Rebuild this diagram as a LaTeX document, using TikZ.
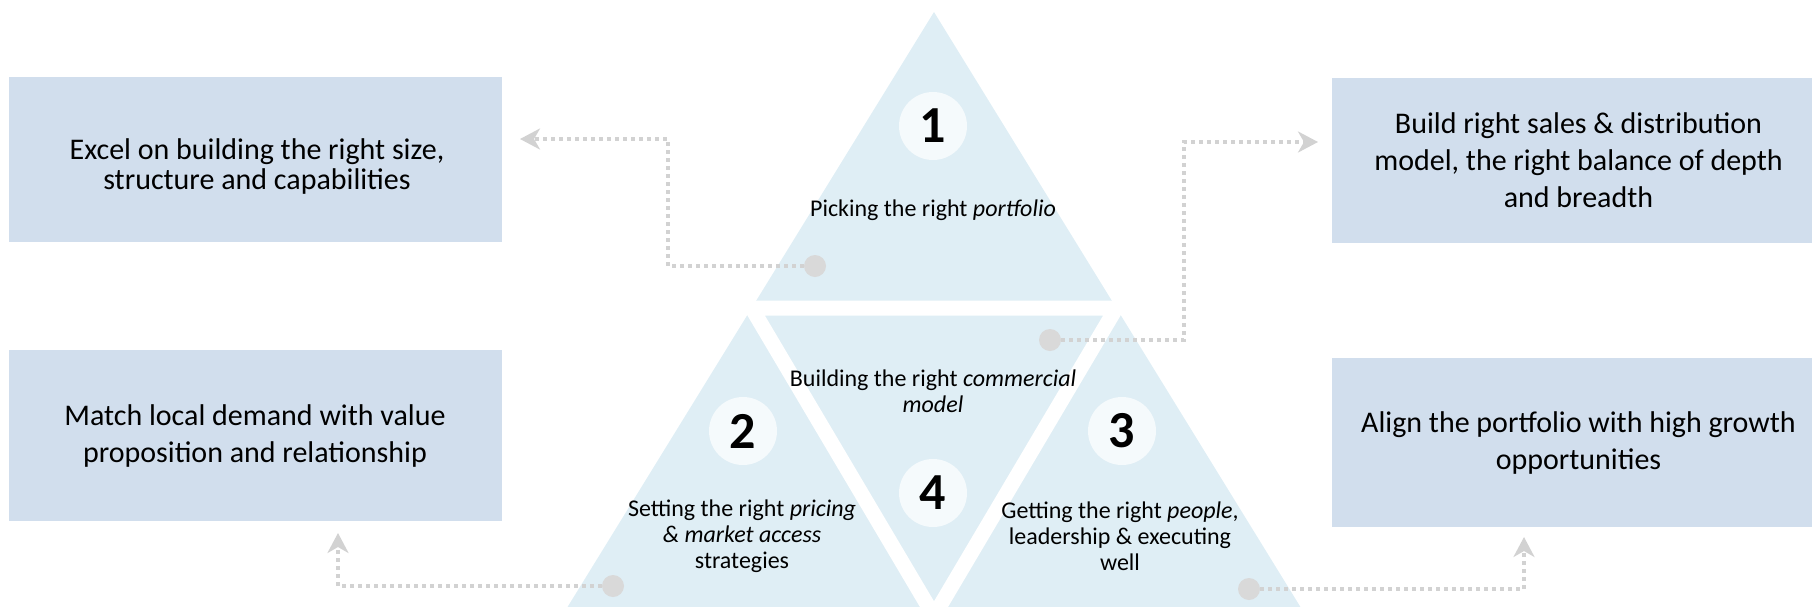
\documentclass[tikz,border=0pt]{standalone}
\usepackage{fontspec}
\setmainfont{Carlito}
\usetikzlibrary{arrows.meta}
\definecolor{boxblue}{RGB}{209,222,237}
\definecolor{triblue}{RGB}{223,238,245}
\definecolor{discfill}{RGB}{245,250,252}
\definecolor{dotgray}{RGB}{217,217,217}
\definecolor{linkgray}{RGB}{210,210,210}

\begin{document}
\begin{tikzpicture}[x=0.5pt, y=-0.5pt,
	link/.style={draw=linkgray, line width=1.6pt, dash pattern=on 2pt off 2pt,
		-{Stealth[length=10pt, width=10.5pt, inset=3pt]}}]
	\useasboundingbox (0,0) rectangle (1812,606);
	\clip (0,0) rectangle (1812,606);

	% pyramid split in four by white strips
	\coordinate (A) at (934,12);
	\coordinate (BL) at (562,616);
	\coordinate (BR) at (1306,616);
	\coordinate (ML) at (751.7,308);
	\coordinate (MR) at (1116.3,308);
	\coordinate (MB) at (934,616);
	\fill[triblue] (A) -- (BL) -- (BR) -- cycle;
	\draw[white, line width=7.5pt] (ML) -- (MR) -- (MB) -- cycle;

	\begin{scope}[every node/.style={circle, fill=discfill, minimum size=34pt,
		inner sep=0pt, font=\fontsize{26}{26}\selectfont\bfseries}]
	\node (N1) at (933,126) {1};
	\node (N2) at (743,431) {2};
	\node (N3) at (1122,431) {3};
	\node (N4) at (933,493) {4};
	\end{scope}

	\begin{scope}[every node/.style={align=center, inner sep=0pt,
		font=\fontsize{12}{13}\selectfont}]
	\node (P1) at (933,210) {Picking the right \textit{portfolio}};
	\node (P4) at (933,391) {Building the right \textit{commercial}\\\textit{model}};
	\node (P2) at (742,536) {Setting the right \textit{pricing}\\\textit{\& market access}\\strategies};
	\node (P3) at (1120,536) {Getting the right \textit{people},\\leadership \& executing\\well};
	\end{scope}

	\begin{scope}[every node/.style={rectangle, fill=boxblue, align=center,
		minimum width=246.5pt, font=\fontsize{15}{18.5}\selectfont}]
	\node (B1) at (255.5,159.5) [minimum height=82.5pt] {};
	\node (B2) at (1578.5,160.5) [minimum height=82.5pt]
		{Build right sales \& distribution\\model, the right balance of depth\\and breadth};
	\node (B3) at (255,435.5) [minimum height=85.5pt]
		{Match local demand with value\\proposition and relationship};
	\node (B4) at (1578.5,442.5) [minimum height=84.5pt]
		{Align the portfolio with high growth\\opportunities};
	\end{scope}
	\node (L1) at (257,166.5) [align=center, font=\fontsize{15}{15}\selectfont]
		{Excel on building the right size,\\structure and capabilities};

	\begin{scope}[every node/.style={circle, fill=dotgray, minimum size=11pt, inner sep=0pt}]
	\node (D1) at (815,266) {};
	\node (D4) at (1050,340) {};
	\node (D2) at (613,586) {};
	\node (D3) at (1249,589) {};
	\end{scope}

	\coordinate (E1) at (520,139);
	\coordinate (E2) at (1318,142);
	\coordinate (E3) at (338,533);
	\coordinate (E4) at (1524,537);
	\path[link] (D1) -- ++(-147,0) |- (E1);
	\path[link] (D4) -- ++(134,0) |- (E2);
	\path[link] (D2) -| (E3);
	\path[link] (D3) -| (E4);
\end{tikzpicture}
\end{document}
